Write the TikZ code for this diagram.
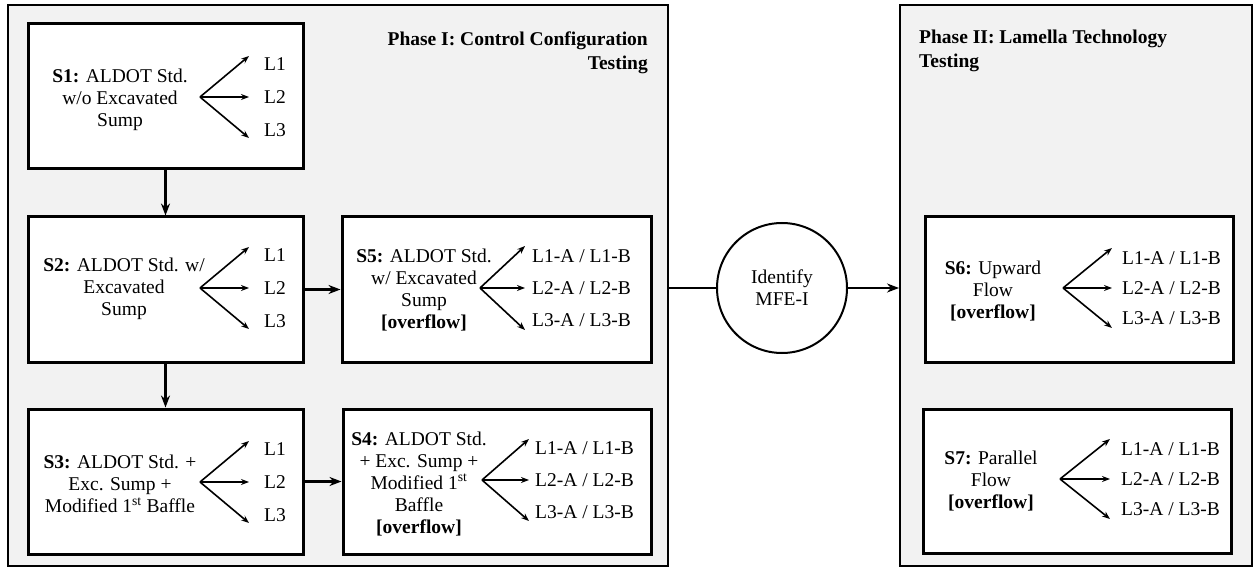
\documentclass[tikz,border=0pt]{standalone}
\usepackage{fontspec}
\setmainfont{LiberationSerif}[Extension=.ttf, UprightFont=*-Regular, BoldFont=*-Bold, ItalicFont=*-Italic, BoldItalicFont=*-BoldItalic]
\usetikzlibrary{arrows.meta,calc}
\definecolor{panelgray}{HTML}{F2F2F2}
\tikzset{
  panel/.style={draw, line width=2pt, fill=panelgray, inner sep=0pt},
  stagebox/.style={draw, line width=3pt, fill=white, inner sep=0pt},
  desc/.style={align=center, font=\fontsize{19.5}{22}\selectfont, inner sep=0pt},
  lab/.style={anchor=west, font=\fontsize{19.5}{22}\selectfont, inner sep=0pt},
  title/.style={font=\fontsize{19.5}{24}\selectfont\bfseries, inner sep=0pt},
  fan/.style={line width=1.6pt, -{Stealth[length=8pt,width=6pt]}},
  link/.style={line width=2.2pt, -{Stealth[length=12pt,width=9pt]}},
}
% label texts for the three branches of a stage
\newcommand\plainlab[1]{L#1}
\newcommand\ablab[1]{L#1-A / L#1-B}
% three-way fan: name, origin x, origin y, tip x, tip dy, label x, label dy, label macro
\newcommand\fanthree[8]{%
  \coordinate (#1o) at (#2,#3);
  \coordinate (#1t1) at (#4,#3-#5);
  \coordinate (#1t2) at (#4,#3);
  \coordinate (#1t3) at (#4,#3+#5);
  \node[lab] (#1l1) at (#6,#3-#7) {#8{1}};
  \node[lab] (#1l2) at (#6,#3) {#8{2}};
  \node[lab] (#1l3) at (#6,#3+#7) {#8{3}};
  \draw[fan] (#1o) -- (#1t1);
  \draw[fan] (#1o) -- (#1t2);
  \draw[fan] (#1o) -- (#1t3);
}
\begin{document}
\begin{tikzpicture}[x=1pt,y=-1pt]
\useasboundingbox (0,0) rectangle (1255,569);

% phase panels
\node[panel, minimum width=660pt, minimum height=561pt] (ph1) at (338,285.5) {};
\node[panel, minimum width=352pt, minimum height=561pt] (ph2) at (1076,285.5) {};

\node[title, align=right, anchor=east] (t1) at (648,53) {Phase I: Control Configuration\\Testing};
\node[title, align=left, anchor=west] (t2) at (919,51) {Phase II: Lamella Technology\\Testing};

% stage boxes
\node[stagebox, minimum width=275pt, minimum height=145pt] (s1) at (165.5,96.5) {};
\node[stagebox, minimum width=275pt, minimum height=145pt] (s2) at (165.5,289.5) {};
\node[stagebox, minimum width=275pt, minimum height=145pt] (s3) at (165.5,481.5) {};
\node[stagebox, minimum width=309pt, minimum height=145pt] (s5) at (496.5,289.5) {};
\node[stagebox, minimum width=308pt, minimum height=145pt] (s4) at (497,481.5) {};
\node[stagebox, minimum width=308pt, minimum height=145pt] (s6) at (1079,289.5) {};
\node[stagebox, minimum width=308pt, minimum height=144pt] (s7) at (1077,481) {};

% stage descriptions
\node[desc] (d1) at (120,100) {\textbf{S1:} ALDOT Std.\\w/o Excavated\\Sump};
\node[desc] (d2) at (124,289) {\textbf{S2:} ALDOT Std. w/\\Excavated\\Sump};
\node[desc] (d3) at (120,484) {\textbf{S3:} ALDOT Std. +\\Exc. Sump +\\Modified 1\textsuperscript{st} Baffle};
\node[desc] (d5) at (424,290) {\textbf{S5:} ALDOT Std.\\w/ Excavated\\Sump\\\textbf{[overflow]}};
\node[desc] (d4) at (419,484) {\textbf{S4:} ALDOT Std.\\+ Exc. Sump +\\Modified 1\textsuperscript{st}\\Baffle\\\textbf{[overflow]}};
\node[desc] (d6) at (993,291) {\textbf{S6:} Upward\\Flow\\\textbf{[overflow]}};
\node[desc] (d7) at (991,481) {\textbf{S7:} Parallel\\Flow\\\textbf{[overflow]}};

% branch fans
\fanthree{f1}{200}{97}{249}{41}{264}{33}{\plainlab}
\fanthree{f2}{200}{288}{249}{41}{264}{33}{\plainlab}
\fanthree{f3}{200}{482}{249}{41}{264}{33}{\plainlab}
\fanthree{f5}{480}{288}{525}{42}{532}{32}{\ablab}
\fanthree{f4}{482}{480}{529}{41}{535}{32}{\ablab}
\fanthree{f6}{1063}{288}{1112}{40}{1122}{30}{\ablab}
\fanthree{f7}{1060}{479}{1110}{40}{1121}{30}{\ablab}

% decision circle
\node[draw, circle, line width=2pt, fill=white, minimum size=130pt, inner sep=0pt,
      align=center, font=\fontsize{19.5}{22}\selectfont] (mfe) at (782,288) {Identify\\MFE-I};

% connectors
\draw[link] (s1.south) -- (s2.north);
\draw[link] (s2.south) -- (s3.north);
\draw[link] (s2.east) -- (s5.west);
\draw[link] (s3.east) -- (s4.west);
\draw[line width=2.2pt] (mfe.west) -- (mfe.west -| ph1.east);
\draw[link] (mfe.east) -- (mfe.east -| ph2.west);
\end{tikzpicture}
\end{document}
